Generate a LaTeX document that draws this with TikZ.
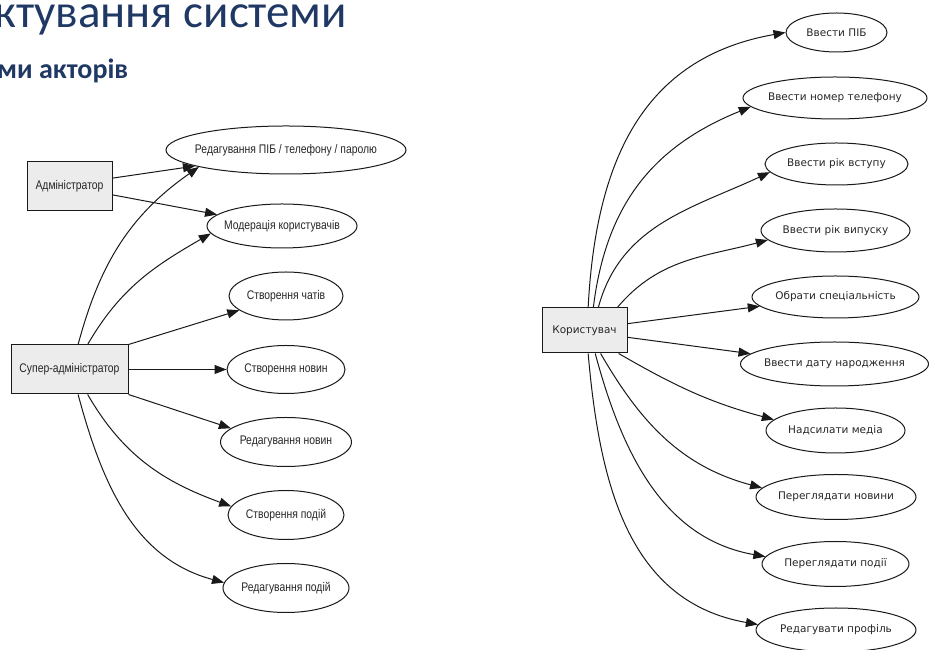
\documentclass[tikz,border=0pt]{standalone}
\usepackage{fontspec}
\setmainfont{Liberation Sans}
\newfontfamily\titlefont{Carlito}
\newfontfamily\rfont{DejaVu Sans}
\usetikzlibrary{shapes.geometric,arrows.meta}
\definecolor{titleblue}{RGB}{31,56,100}
\definecolor{boxgray}{RGB}{236,236,236}
\newcommand{\lsq}[1]{\makebox[0pt]{\scalebox{0.83}[1]{#1}}}
\newcommand{\rsq}[1]{\makebox[0pt]{#1}}
\begin{document}
\begin{tikzpicture}[x=1pt,y=1pt,
  actor/.style={draw=black!90, fill=boxgray, rectangle, line width=1pt, inner sep=0pt, text=black!85},
  uc/.style={draw=black!90, ellipse, line width=1pt, inner sep=0pt, text=black!85},
  lft/.style={font=\fontsize{12.5}{14}\selectfont},
  rgt/.style={font=\rfont\fontsize{10.5}{12}\selectfont},
  edge/.style={draw=black!90, line width=1pt, -{Triangle[length=12pt,width=9pt]}}]
\useasboundingbox (0,0) rectangle (929,650);
% titles
\node[anchor=base west, inner sep=0pt, text=titleblue, font=\titlefont\fontsize{47}{50}\selectfont] (title) at (-6,622) {ктування системи};
\node[anchor=base west, inner sep=0pt, text=titleblue, font=\titlefont\bfseries\fontsize{28}{30}\selectfont] (subtitle) at (-3,571) {ми акторів};
% left actors
\node[actor, lft, minimum width=85pt, minimum height=49pt] (adm) at (69.5,463.5) {\lsq{Адміністратор}};
\node[actor, lft, minimum width=117pt, minimum height=49pt] (sadm) at (69.5,280.5) {\lsq{Супер-адміністратор}};
% left use cases
\node[uc, lft, minimum width=240pt, minimum height=48pt] (u1) at (286,500) {\lsq{Редагування ПІБ / телефону / паролю}};
\node[uc, lft, minimum width=150pt, minimum height=44pt] (u2) at (282,424) {\lsq{Модерація користувачів}};
\node[uc, lft, minimum width=114pt, minimum height=48pt] (u3) at (286,354) {\lsq{Створення чатів}};
\node[uc, lft, minimum width=118pt, minimum height=48pt] (u4) at (286,280.5) {\lsq{Створення новин}};
\node[uc, lft, minimum width=131pt, minimum height=49pt] (u5) at (286,208) {\lsq{Редагування новин}};
\node[uc, lft, minimum width=116pt, minimum height=49pt] (u6) at (286,135) {\lsq{Створення подій}};
\node[uc, lft, minimum width=126pt, minimum height=49pt] (u7) at (286,62) {\lsq{Редагування подій}};
% right actor
\node[actor, rgt, minimum width=85pt, minimum height=45pt] (usr) at (584.5,319.5) {\rsq{Користувач}};
% right use cases
\node[uc, rgt, minimum width=101pt, minimum height=39pt] (r1) at (836.5,617.5) {\rsq{Ввести ПІБ}};
\node[uc, rgt, minimum width=184pt, minimum height=42pt] (r2) at (835,552) {\rsq{Ввести номер телефону}};
\node[uc, rgt, minimum width=143pt, minimum height=42pt] (r3) at (836.5,486) {\rsq{Ввести рік вступу}};
\node[uc, rgt, minimum width=149pt, minimum height=43pt] (r4) at (835.5,419.5) {\rsq{Ввести рік випуску}};
\node[uc, rgt, minimum width=167pt, minimum height=42pt] (r5) at (835.5,353) {\rsq{Обрати спеціальність}};
\node[uc, rgt, minimum width=188pt, minimum height=44pt] (r6) at (834.5,286) {\rsq{Ввести дату народження}};
\node[uc, rgt, minimum width=139pt, minimum height=45pt] (r7) at (835.5,219.5) {\rsq{Надсилати медіа}};
\node[uc, rgt, minimum width=160pt, minimum height=45pt] (r8) at (836,153) {\rsq{Переглядати новини}};
\node[uc, rgt, minimum width=147pt, minimum height=45pt] (r9) at (835.5,86) {\rsq{Переглядати події}};
\node[uc, rgt, minimum width=160pt, minimum height=44pt] (r10) at (836,20) {\rsq{Редагувати профіль}};
% left edges
\draw[edge] (adm.11) -- (u1.190);
\draw[edge] (adm.349) -- (u2.170);
\draw[edge] (sadm.71) to[out=75,in=215] (u1.191);
\draw[edge] (sadm.54) to[out=60,in=210] (u2.186);
\draw[edge] (sadm.north east) -- (u3.197);
\draw[edge] (sadm) -- (u4);
\draw[edge] (sadm.south east) -- (u5.166);
\draw[edge] (sadm.306) to[out=300,in=160] (u6.171);
\draw[edge] (sadm.289) to[out=285,in=165] (u7.175);
% right edges
\draw[edge] (usr.81) to[out=87,in=190,looseness=1.1] (r1.180);
\draw[edge] (usr.69) to[out=83,in=202,looseness=1.05] (r2.186);
\draw[edge] (usr.59) to[out=75,in=205] (r3.187);
\draw[edge] (usr.35) to[out=50,in=195] (r4.188);
\draw[edge] (usr.9) -- (r5.187);
\draw[edge] (usr.351) -- (r6.173);
\draw[edge] (usr.326) to[out=330,in=165] (r7.170);
\draw[edge] (usr.305) to[out=300,in=165] (r8.173);
\draw[edge] (usr.295) to[out=285,in=170] (r9.174);
\draw[edge] (usr.279) to[out=275,in=170,looseness=1.05] (r10.176);
\end{tikzpicture}
\end{document}
